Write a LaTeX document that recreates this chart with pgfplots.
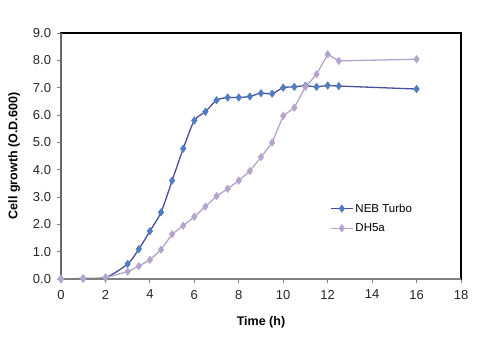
\documentclass[border=0pt]{standalone}
\usepackage{fontspec}
\setmainfont{Liberation Sans}
\usepackage{pgfplots}
\pgfplotsset{compat=1.18}
\definecolor{nebline}{RGB}{72,78,156}
\definecolor{nebmark}{RGB}{79,125,192}
\definecolor{dhc}{RGB}{180,164,204}
\definecolor{axgray}{RGB}{128,128,128}
\begin{document}
\begin{tikzpicture}
\useasboundingbox (0,0) rectangle (500bp,339bp);
\begin{axis}[
  at={(61bp,60bp)}, anchor=south west,
  scale only axis, width=400bp, height=246bp,
  xmin=0, xmax=18, ymin=0, ymax=9,
  xtick={0,2,...,18}, ytick={0,1,...,9},
  xtick pos=bottom, ytick pos=left,
  tick align=outside,
  major tick length=3.5bp,
  tick style={axgray, line width=0.8pt},
  axis line style={black, line width=1.3pt},
  /pgf/number format/assume math mode=true,
  yticklabel style={xshift=-3bp, /pgf/number format/fixed, /pgf/number format/fixed zerofill, /pgf/number format/precision=1},
  xticklabel style={yshift=-4bp, /pgf/number format/fixed},
  tick label style={font=\fontsize{13bp}{15bp}\selectfont, text=black!85},
  xlabel={\textbf{Time (h)}},
  ylabel={\textbf{Cell growth (O.D.600)}},
  label style={font=\fontsize{12.5bp}{14bp}\selectfont},
  xlabel style={yshift=-10bp},
  ylabel style={yshift=6bp},
  legend style={at={(0.6725,0.315)}, anchor=north west, draw=none, fill=none,
    font=\fontsize{11.5bp}{13bp}\selectfont, row sep=6bp, inner sep=0pt},
  legend cell align=left,
  legend image code/.code={
    \draw[#1] (0bp,0bp) -- (22bp,0bp);
    \draw[#1, only marks] plot coordinates {(11bp,0bp)};
  },
  clip=false,
]
\addplot[nebline, line width=1.3pt, smooth, tension=0.45,
  mark=diamond*, mark size=3.8bp,
  mark options={solid, fill=nebmark, draw=nebmark, line width=0.4pt}]
coordinates {
(0,0) (1,0.02) (2,0.05) (3,0.55) (3.5,1.09) (4,1.75) (4.5,2.44) (5,3.6)
(5.5,4.77) (6,5.8) (6.5,6.12) (7,6.54) (7.5,6.64) (8,6.64) (8.5,6.68)
(9,6.8) (9.5,6.78) (10,7.0) (10.5,7.03) (11,7.07) (11.5,7.03) (12,7.08)
(12.5,7.06) (16,6.95)
};
\addlegendentry{NEB Turbo}
\addplot[dhc, line width=1.3pt,
  mark=diamond*, mark size=3.8bp,
  mark options={solid, fill=dhc, draw=dhc, line width=0.4pt}]
coordinates {
(0,0) (1,0.01) (2,0.05) (3,0.27) (3.5,0.47) (4,0.7) (4.5,1.07) (5,1.64)
(5.5,1.95) (6,2.28) (6.5,2.65) (7,3.03) (7.5,3.3) (8,3.6) (8.5,3.95)
(9,4.46) (9.5,4.99) (10,5.97) (10.5,6.27) (11,7.03) (11.5,7.49) (12,8.22)
(12.5,7.98) (16,8.04)
};
\addlegendentry{DH5a}
\draw[axgray, line width=1.3pt] (axis cs:0,0) -- (axis cs:18,0);
\draw[axgray!80!black, line width=1.3pt] (axis cs:0,0) -- (axis cs:0,9);
\end{axis}
\end{tikzpicture}
\end{document}
